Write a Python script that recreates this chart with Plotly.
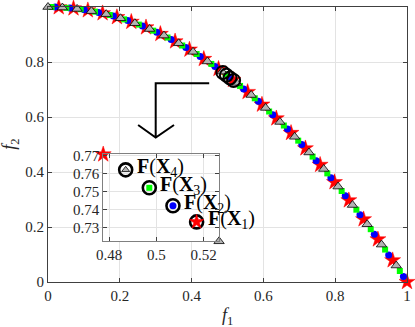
import plotly.graph_objects as go

# Pareto front samples (four interleaved solution sets)
tri_f1 = [0.000, 0.040, 0.081, 0.121, 0.162, 0.202, 0.242, 0.283, 0.323, 0.364, 0.404, 0.444, 0.485,
          0.525, 0.566, 0.606, 0.646, 0.687, 0.727, 0.768, 0.808, 0.848, 0.889, 0.929, 0.970]
tri_f2 = [1.000, 0.998, 0.993, 0.985, 0.974, 0.959, 0.941, 0.920, 0.896, 0.868, 0.837, 0.802, 0.765,
          0.724, 0.680, 0.633, 0.582, 0.528, 0.471, 0.411, 0.347, 0.280, 0.210, 0.136, 0.060]
grn_f1 = [0.010, 0.051, 0.091, 0.131, 0.172, 0.212, 0.253, 0.293, 0.333, 0.374, 0.414, 0.455, 0.495,
          0.535, 0.576, 0.616, 0.657, 0.697, 0.737, 0.778, 0.818, 0.859, 0.899, 0.939, 0.980]
grn_f2 = [1.000, 0.997, 0.992, 0.983, 0.971, 0.955, 0.936, 0.914, 0.889, 0.860, 0.829, 0.793, 0.755,
          0.713, 0.668, 0.620, 0.569, 0.514, 0.456, 0.395, 0.331, 0.263, 0.192, 0.118, 0.040]
blu_f1 = [0.020, 0.061, 0.101, 0.141, 0.182, 0.222, 0.263, 0.303, 0.343, 0.384, 0.424, 0.465, 0.505,
          0.545, 0.586, 0.626, 0.667, 0.707, 0.747, 0.788, 0.828, 0.869, 0.909, 0.949, 0.990]
blu_f2 = [1.000, 0.996, 0.990, 0.980, 0.967, 0.951, 0.931, 0.908, 0.882, 0.853, 0.820, 0.784, 0.745,
          0.702, 0.657, 0.608, 0.556, 0.500, 0.441, 0.379, 0.314, 0.245, 0.174, 0.098, 0.020]
red_f1 = [0.030, 0.071, 0.111, 0.152, 0.192, 0.232, 0.273, 0.313, 0.354, 0.394, 0.434, 0.475, 0.515,
          0.556, 0.596, 0.636, 0.677, 0.717, 0.758, 0.798, 0.838, 0.879, 0.919, 0.960, 1.000]
red_f2 = [0.999, 0.995, 0.988, 0.977, 0.963, 0.946, 0.926, 0.902, 0.875, 0.845, 0.811, 0.775, 0.735,
          0.691, 0.645, 0.595, 0.542, 0.486, 0.426, 0.363, 0.297, 0.228, 0.155, 0.079, 0.000]

# highlighted solutions X1..X4
hl_names = ["1", "2", "3", "4"]
hl_f1 = [0.517, 0.507, 0.497, 0.487]
hl_f2 = [0.733, 0.742, 0.752, 0.762]

# neighbours sitting on the inset corners
edge_star = ([0.4775], [0.7706])
edge_tri = ([0.5265], [0.7222])

FONT = "Liberation Serif"
AX = "#404040"
GRID = "#e3e3e3"

red_m = dict(symbol="star", size=12, color="#ff0000", line=dict(color="#ff0000", width=0.5))
blu_m = dict(symbol="circle", size=7, color="#0000ff", line=dict(width=0))
grn_m = dict(symbol="square", size=6, color="#00ff00", line=dict(width=0))
tri_m = dict(symbol="triangle-up", size=9, color="#b3b3b3", line=dict(color="#000000", width=0.8))

fig = go.Figure()
fig.add_trace(go.Scatter(x=red_f1, y=red_f2, mode="markers", marker=red_m, cliponaxis=False))
fig.add_trace(go.Scatter(x=blu_f1, y=blu_f2, mode="markers", marker=blu_m, cliponaxis=False))
fig.add_trace(go.Scatter(x=grn_f1, y=grn_f2, mode="markers", marker=grn_m, cliponaxis=False))
fig.add_trace(go.Scatter(x=tri_f1, y=tri_f2, mode="markers", marker=tri_m, cliponaxis=False))
fig.add_trace(go.Scatter(x=hl_f1, y=hl_f2, mode="markers",
                         marker=dict(symbol="circle-open", size=13, color="black", line=dict(width=2))))

# inset
ins = dict(xaxis="x2", yaxis="y2", mode="markers", cliponaxis=False)
fig.add_trace(go.Scatter(x=hl_f1, y=hl_f2, marker=dict(symbol="circle-open", size=13, color="black",
                                                       line=dict(width=2.6)), **ins))
fig.add_trace(go.Scatter(x=[hl_f1[0]], y=[hl_f2[0]], marker=dict(red_m, size=11), **ins))
fig.add_trace(go.Scatter(x=[hl_f1[1]], y=[hl_f2[1]], marker=dict(blu_m, size=7), **ins))
fig.add_trace(go.Scatter(x=[hl_f1[2]], y=[hl_f2[2]], marker=dict(grn_m, size=6), **ins))
fig.add_trace(go.Scatter(x=[hl_f1[3]], y=[hl_f2[3]], marker=dict(tri_m, size=7), **ins))
fig.add_trace(go.Scatter(x=edge_star[0], y=edge_star[1], marker=red_m, **ins))
fig.add_trace(go.Scatter(x=edge_tri[0], y=edge_tri[1], marker=tri_m, **ins))

for n, x, y in zip(hl_names, hl_f1, hl_f2):
    fig.add_annotation(x=x, y=y, xref="x2", yref="y2",
                       text=f"<b>F</b>(<b>X</b><sub>{n}</sub>)",
                       showarrow=False, xanchor="left", yanchor="middle", xshift=9, yshift=2,
                       font=dict(family=FONT, size=20, color="black"))

# axis titles
fig.add_annotation(x=0.5, y=-0.125, xref="paper", yref="paper", text="<i>f</i><sub>1</sub>",
                   showarrow=False, xanchor="center", yanchor="middle",
                   font=dict(family=FONT, size=18, color="#262626"))
fig.add_annotation(x=-0.105, y=0.5, xref="paper", yref="paper", text="<i>f</i><sub>2</sub>",
                   showarrow=False, xanchor="center", yanchor="middle", textangle=-90,
                   font=dict(family=FONT, size=18, color="#262626"))

# white backdrop for the inset and the pointer arrow
fig.add_shape(type="rect", xref="x2 domain", yref="y2 domain", x0=0, x1=1, y0=0, y1=1,
              fillcolor="white", line=dict(width=0), layer="below")
fig.add_shape(type="path", xref="x", yref="y",
              path="M 0.449 0.7225 L 0.300 0.7225 L 0.300 0.525 M 0.251 0.571 L 0.300 0.525 L 0.351 0.571",
              line=dict(color="black", width=2))

axis_common = dict(showgrid=True, gridcolor=GRID, gridwidth=1, zeroline=False, showline=True,
                   linecolor=AX, linewidth=1, mirror="ticks", ticks="inside", ticklen=4,
                   tickcolor=AX, automargin=False,
                   tickfont=dict(family=FONT, size=15, color="#262626"))

fig.update_layout(
    width=415, height=327,
    margin=dict(l=48, r=8, t=7, b=45),
    paper_bgcolor="white", plot_bgcolor="white",
    showlegend=False,
    xaxis=dict(axis_common, range=[0, 1], dtick=0.2, domain=[0, 1]),
    yaxis=dict(axis_common, range=[0, 1], dtick=0.2, domain=[0, 1]),
    xaxis2=dict(axis_common, range=[0.4775, 0.5265], tick0=0.48, dtick=0.02, domain=[0.1538, 0.4765],
                anchor="y2", linecolor="#808080"),
    yaxis2=dict(axis_common, range=[0.7222, 0.7706], tick0=0.73, dtick=0.01, domain=[0.148, 0.464],
                anchor="x2", linecolor="#808080"),
)

fig.write_html("out.html", config={"displayModeBar": False},
               post_script="document.body.style.margin='0';")
